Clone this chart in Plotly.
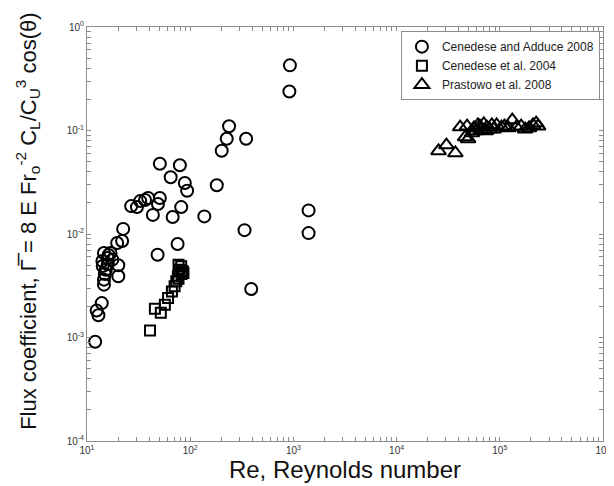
import plotly.graph_objects as go

# Cenedese and Adduce 2008 (circles)
ca_re = [12.0, 12.4, 12.9, 13.9, 14.6, 14.6, 15.2, 14.1, 15.8, 14.6, 16.9, 17.6, 20.1, 20.1,
         19.6, 21.9, 22.4, 14.9, 14.2, 15.9, 16.2,
         26.8, 30.5, 32.8, 36.5, 39.1, 50.8, 48.7, 43.5, 67.6, 81.8, 64.7, 79.4, 50.8,
         88.7, 93.4, 75.5, 48.3, 137, 181, 202, 226, 238, 348, 336, 390, 925, 914, 1403, 1403]
ca_g = [0.00091, 0.00182, 0.00164, 0.00215, 0.00324, 0.00362, 0.00452, 0.00548, 0.00586,
        0.00655, 0.00655, 0.00565, 0.00499, 0.0039, 0.00819, 0.00855, 0.0112, 0.0041, 0.0049,
        0.0051, 0.00627,
        0.0186, 0.0182, 0.0208, 0.0213, 0.0223, 0.0223, 0.0195, 0.0153, 0.0146, 0.0182,
        0.0353, 0.0461, 0.0478, 0.0311, 0.0262, 0.0080, 0.0063, 0.0148, 0.0296, 0.0638,
        0.0833, 0.110, 0.0833, 0.0109, 0.00294, 0.426, 0.238, 0.0169, 0.0102]

# Cenedese et al. 2004 (squares)
c04_re = [40.8, 45.5, 51.9, 56.8, 61, 66.5, 70.6, 73.3, 76, 78.9, 81.8, 84.7, 77.1, 82.4, 86, 77]
c04_g = [0.00117, 0.0019, 0.00173, 0.00207, 0.00241, 0.00279, 0.00313, 0.00349, 0.0039,
         0.00452, 0.00488, 0.00436, 0.00505, 0.0041, 0.0042, 0.0037]

# Prastowo et al. 2008 (triangles)
p08_re = [25500, 30400, 37100, 41300, 46100, 49300, 48200, 53800, 56200, 58700, 61400, 64100,
          65600, 70000, 73200, 74900, 80000, 83600, 87300, 93200, 104000, 111000, 121000,
          132000, 145000, 161000, 176000, 192000, 210000, 225000, 235000]
p08_g = [0.0634, 0.0724, 0.0606, 0.108, 0.0865, 0.0828, 0.110, 0.0946, 0.106, 0.0989, 0.113,
         0.110, 0.101, 0.116, 0.0989, 0.108, 0.103, 0.113, 0.103, 0.113, 0.108, 0.110, 0.106,
         0.126, 0.108, 0.110, 0.103, 0.106, 0.113, 0.118, 0.110]

x_decades = [1, 2, 3, 4, 5, 6]
y_decades = [-4, -3, -2, -1, 0]

x_title = "Re, Reynolds number"
y_title = ("Flux coefficient, \u0393\u0305 = 8 E Fr<sub>o</sub><sup>-2</sup> "
           "C<sub>L</sub>/C<sub>U</sub><sup>3</sup> cos(\u03b8)")


def log_ticks(decades):
    vals, texts = [], []
    for i, d in enumerate(decades):
        vals.append(10.0 ** d)
        texts.append("10<sup>%d</sup>" % d)
        if i < len(decades) - 1:
            for m in range(2, 10):
                vals.append(m * 10.0 ** d)
                texts.append("")
    return vals, texts


xv, xt = log_ticks(x_decades)
yv, yt = log_ticks(y_decades)

FONT = "Liberation Sans, Arial, Helvetica, sans-serif"

fig = go.Figure()
fig.add_trace(go.Scatter(
    x=ca_re, y=ca_g, mode="markers", name="Cenedese and Adduce 2008",
    marker=dict(symbol="circle-open", size=12, color="black", line=dict(width=2, color="black"))))
fig.add_trace(go.Scatter(
    x=c04_re, y=c04_g, mode="markers", name="Cenedese et al. 2004",
    marker=dict(symbol="square-open", size=10, color="black", line=dict(width=2, color="black"))))
fig.add_trace(go.Scatter(
    x=p08_re, y=p08_g, mode="markers", name="Prastowo et al. 2008",
    marker=dict(symbol="triangle-up-open", size=13, color="black", line=dict(width=2, color="black"))))

axis_common = dict(
    type="log", showgrid=False, zeroline=False, showline=True, linecolor="#8c8c8c", linewidth=1,
    mirror="ticks", ticks="inside", ticklen=4, tickcolor="#8c8c8c", tickwidth=1,
    tickfont=dict(family=FONT, size=10, color="#333333"),
)

fig.update_xaxes(
    range=[x_decades[0], x_decades[-1]], tickvals=xv, ticktext=xt,
    title=dict(text=x_title, font=dict(family=FONT, size=24, color="#111111"), standoff=4),
    **axis_common)
fig.update_yaxes(range=[y_decades[0], y_decades[-1]], tickvals=yv, ticktext=yt, **axis_common)

# y-axis title placed as a rotated annotation so its centre matches the reference
fig.add_annotation(
    text=y_title, textangle=-90, showarrow=False,
    xref="paper", yref="paper", x=-0.115, y=0.531, xanchor="center", yanchor="middle",
    font=dict(family=FONT, size=22, color="#111111"))

fig.update_layout(
    width=614, height=486,
    margin=dict(l=79, r=11, t=19, b=53),
    paper_bgcolor="white", plot_bgcolor="white",
    font=dict(family=FONT),
    legend=dict(
        x=0.994, y=0.99, xanchor="right", yanchor="top",
        bgcolor="white", bordercolor="#8c8c8c", borderwidth=1,
        font=dict(family=FONT, size=12, color="#222222"),
        itemsizing="trace", tracegroupgap=0,
    ),
)

fig.write_html("out.html")
